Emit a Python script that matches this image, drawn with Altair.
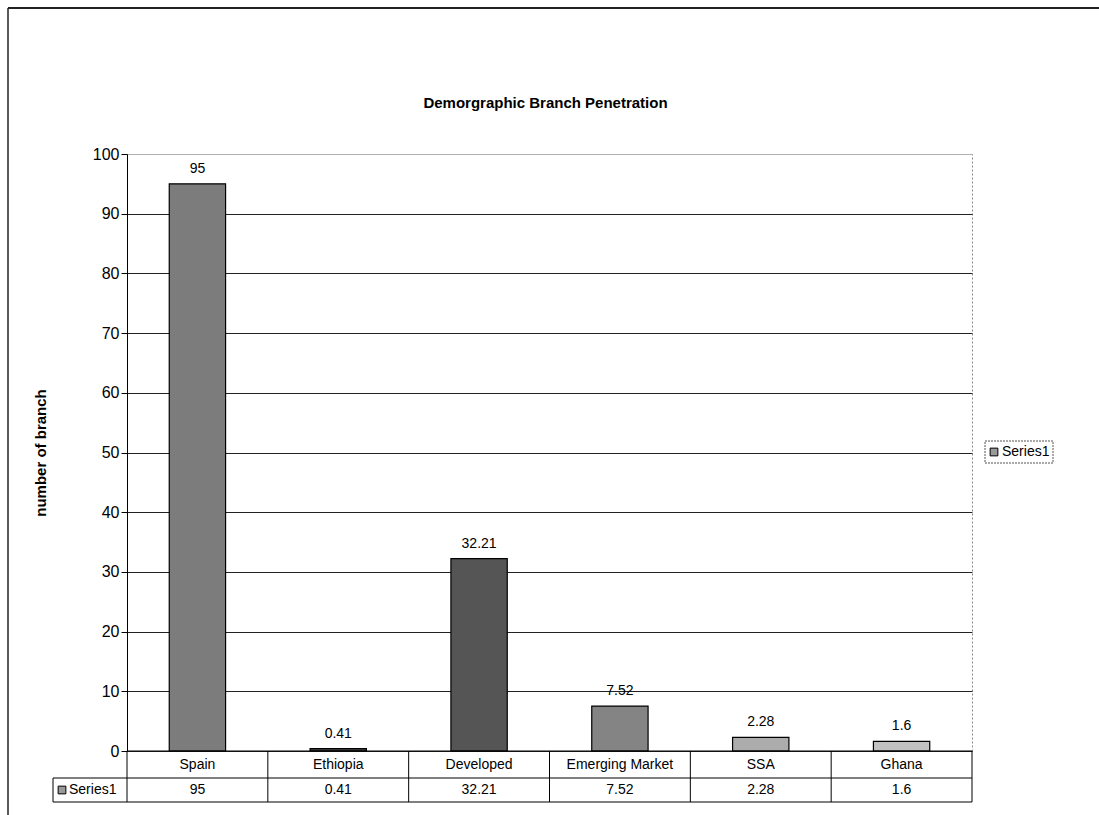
import altair as alt
import pandas as pd

# Chart data
categories = ["Spain", "Ethiopia", "Developed", "Emerging Market", "SSA", "Ghana"]
values = [95, 0.41, 32.21, 7.52, 2.28, 1.6]
series_name = "Series1"
y_ticks = [0, 10, 20, 30, 40, 50, 60, 70, 80, 90, 100]

# Grey shades for each bar
bar_greys = ["#7c7c7c", "#444444", "#555555", "#848484", "#acacac", "#c2c2c2"]

df = pd.DataFrame({"category": categories, "value": values})
df["label"] = [f"{v:g}" for v in values]

FONT = "Liberation Sans"
W, H = 845, 597

x_enc = alt.X("category:N", sort=categories,
              scale=alt.Scale(paddingInner=0, paddingOuter=0), axis=None)

base = alt.Chart(df)

bars = base.mark_bar(stroke="black", strokeWidth=1.2,
                     width=alt.RelativeBandSize(0.4)).encode(
    x=x_enc,
    y=alt.Y("value:Q", scale=alt.Scale(domain=[0, 100], nice=False),
            axis=alt.Axis(values=y_ticks, title="number of branch",
                          titleFont=FONT, titleFontSize=15, titleFontWeight="bold",
                          titleColor="black", titleAngle=-90, titleX=-87, titleY=H / 2,
                          titleAlign="center", titleBaseline="middle",
                          labelFont=FONT, labelFontSize=16, labelColor="black",
                          labelPadding=2, tickSize=6, tickColor="black",
                          domainColor="black", grid=True, gridWidth=1,
                          gridColor=alt.condition("datum.value === 100",
                                                  alt.value("#b0b0b0"),
                                                  alt.value("#222222")))),
    fill=alt.Fill("category:N", scale=alt.Scale(domain=categories, range=bar_greys),
                  legend=None),
)

value_labels = base.mark_text(font=FONT, fontSize=14, color="black",
                              baseline="middle", dy=-15).encode(
    x=x_enc, y="value:Q", text="label:N"
)

# Data table under the plot
row1_text = base.mark_text(font=FONT, fontSize=14, color="black", baseline="middle").encode(
    x=x_enc, y=alt.value(611), text="category:N"
)
row2_text = base.mark_text(font=FONT, fontSize=14, color="black", baseline="middle").encode(
    x=x_enc, y=alt.value(636), text="label:N"
)
col_lines = base.mark_rule(color="black", strokeWidth=1).encode(
    x=alt.X("category:N", sort=categories, bandPosition=0,
            scale=alt.Scale(paddingInner=0, paddingOuter=0), axis=None),
    y=alt.value(H), y2=alt.value(648)
)
right_edge = alt.Chart().mark_rule(color="black").encode(
    x=alt.value(W), y=alt.value(H), y2=alt.value(648))
zero_line = alt.Chart().mark_rule(color="black").encode(
    x=alt.value(0), x2=alt.value(W), y=alt.value(H))
row_line = alt.Chart().mark_rule(color="black").encode(
    x=alt.value(-74), x2=alt.value(W), y=alt.value(624))
bottom_line = alt.Chart().mark_rule(color="black").encode(
    x=alt.value(-74), x2=alt.value(W), y=alt.value(648))
left_cell = alt.Chart().mark_rule(color="black").encode(
    x=alt.value(-74), y=alt.value(624), y2=alt.value(648))
cell_key = alt.Chart().mark_point(shape="square", size=60, filled=True,
                                  fill="#999999", stroke="black", strokeWidth=1,
                                  opacity=1).encode(
    x=alt.value(-65), y=alt.value(636))
cell_text = alt.Chart().mark_text(font=FONT, fontSize=14, color="black",
                                  align="left", baseline="middle").encode(
    x=alt.value(-58), y=alt.value(636), text=alt.value(series_name))

# Legend on the right
legend_box = alt.Chart().mark_rect(fill="white", stroke="#555555", strokeWidth=1,
                                   strokeDash=[2, 1]).encode(
    x=alt.value(858), x2=alt.value(926), y=alt.value(287), y2=alt.value(309))
legend_key = alt.Chart().mark_point(shape="square", size=60, filled=True,
                                    fill="#999999", stroke="black", strokeWidth=1,
                                    opacity=1).encode(
    x=alt.value(867), y=alt.value(298))
legend_text = alt.Chart().mark_text(font=FONT, fontSize=14, color="black",
                                    align="left", baseline="middle").encode(
    x=alt.value(875), y=alt.value(298), text=alt.value(series_name))

# Title and outer frame
title = alt.Chart().mark_text(font=FONT, fontSize=15, fontWeight="bold", color="black",
                              align="center", baseline="middle").encode(
    x=alt.value(W / 2 - 4), y=alt.value(-51),
    text=alt.value("Demorgraphic Branch Penetration"))
frame_top = alt.Chart().mark_rule(color="#222222", strokeWidth=2).encode(
    x=alt.value(-119), x2=alt.value(980), y=alt.value(-146))
frame_left = alt.Chart().mark_rule(color="#222222", strokeWidth=1.5).encode(
    x=alt.value(-119), y=alt.value(-146), y2=alt.value(670))

chart = alt.layer(
    bars, value_labels, row1_text, row2_text, col_lines, right_edge, zero_line,
    row_line, bottom_line, left_cell, cell_key, cell_text,
    legend_box, legend_key, legend_text, title, frame_top, frame_left,
).properties(
    width=W, height=H,
    autosize=alt.AutoSizeParams(type="none"),
    padding={"left": 127, "top": 154, "right": 127, "bottom": 64},
    background="white",
).configure_view(
    stroke="#888888", strokeDash=[2, 2], strokeWidth=1
)

chart.save("out.html", embed_options={"renderer": "svg", "actions": False})
